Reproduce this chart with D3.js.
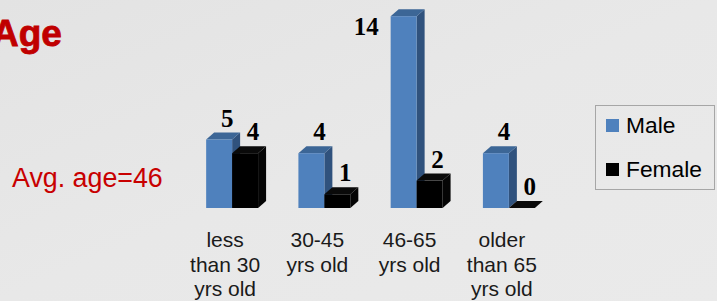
<!DOCTYPE html>
<html>
<head>
<meta charset="utf-8">
<script src="https://cdn.jsdelivr.net/npm/d3@7"></script>
<style>
  html, body { margin: 0; padding: 0; overflow: hidden; }
  body { width: 717px; height: 301px; }
</style>
</head>
<body>
<script>
const categories = [
  ["less", "than 30", "yrs old"],
  ["30-45", "yrs old"],
  ["46-65", "yrs old"],
  ["older", "than 65", "yrs old"]
];
const seriesNames = ["Male", "Female"];
const maleValues = [5, 4, 14, 4];
const femaleValues = [4, 1, 2, 0];
const titleText = "Age";
const noteText = "Avg. age=46";

const width = 717, height = 301;
const colors = {
  Male: { front: "#4f81bd", top: "#3c6696", side: "#30527d" },
  Female: { front: "#000000", top: "#0a0a0a", side: "#050505" }
};
const depthX = 8, depthY = 7;

const svg = d3.select("body").append("svg")
    .attr("width", width)
    .attr("height", height)
    .style("font-family", "Arial, 'Liberation Sans', sans-serif");

// background
const defs = svg.append("defs");
const grad = defs.append("linearGradient")
    .attr("id", "bg")
    .attr("x1", "0%").attr("y1", "0%")
    .attr("x2", "100%").attr("y2", "100%");
grad.append("stop").attr("offset", "0%").attr("stop-color", "#e3e3e3");
grad.append("stop").attr("offset", "50%").attr("stop-color", "#e8e8e8");
grad.append("stop").attr("offset", "100%").attr("stop-color", "#eaeaea");
svg.append("rect").attr("width", width).attr("height", height).attr("fill", "url(#bg)");

// title + note
svg.append("text")
    .attr("x", -8).attr("y", 46)
    .attr("fill", "#c00000")
    .attr("font-size", 37)
    .attr("font-weight", "bold")
    .attr("stroke", "#c00000")
    .attr("stroke-width", 0.8)
    .text(titleText);

svg.append("text")
    .attr("x", 12).attr("y", 187)
    .attr("fill", "#c80000")
    .attr("font-size", 26.8)
    .text(noteText);

// scales
const data = categories.map((c, i) => ({ cat: c.join(" "), lines: c, Male: maleValues[i], Female: femaleValues[i] }));

const x0 = d3.scaleBand()
    .domain(data.map(d => d.cat))
    .range([186, 555])
    .paddingInner(0.437)
    .paddingOuter(0.2185);

const x1 = d3.scaleBand()
    .domain(seriesNames)
    .range([0, x0.bandwidth()]);

const y = d3.scaleLinear()
    .domain([0, 14])
    .range([208, 16.2]);

// bars
const groups = svg.append("g").selectAll("g")
    .data(data)
    .join("g")
    .attr("transform", d => `translate(${x0(d.cat)},0)`);

seriesNames.forEach(s => {
  const bar = groups.append("g");
  const bx = () => x1(s);
  const bw = x1.bandwidth();
  // side
  bar.append("path")
      .attr("fill", colors[s].side)
      .attr("d", d => {
        const l = bx() + bw, t = y(d[s]), b = y(0);
        return `M${l},${t}L${l + depthX},${t - depthY}L${l + depthX},${b - depthY}L${l},${b}Z`;
      });
  // top
  bar.append("path")
      .attr("fill", colors[s].top)
      .attr("d", d => {
        const l = bx(), t = y(d[s]);
        return `M${l},${t}L${l + depthX},${t - depthY}L${l + bw + depthX},${t - depthY}L${l + bw},${t}Z`;
      });
  // front
  bar.append("rect")
      .attr("fill", colors[s].front)
      .attr("x", bx())
      .attr("y", d => y(d[s]))
      .attr("width", bw)
      .attr("height", d => y(0) - y(d[s]));
});

// value labels
seriesNames.forEach(s => {
  groups.append("text")
      .attr("font-family", "'Times New Roman', 'Liberation Serif', serif")
      .attr("font-weight", "bold")
      .attr("font-size", 25)
      .attr("fill", "#000")
      .each(function(d) {
        const t = d3.select(this);
        const top = y(d[s]) - depthY - 6;
        if (top < 26) {
          t.attr("text-anchor", "end")
           .attr("x", x1(s) - 12)
           .attr("y", y(d[s]) + 19);
        } else {
          t.attr("text-anchor", "middle")
           .attr("x", x1(s) + x1.bandwidth() / 2 + depthX)
           .attr("y", top);
        }
      })
      .text(d => d[s]);
});

// category labels
const catText = svg.append("g").selectAll("text")
    .data(data)
    .join("text")
    .attr("text-anchor", "middle")
    .attr("font-size", 21)
    .attr("fill", "#1a1a1a")
    .attr("x", d => x0(d.cat) + x0.bandwidth() / 2 - 7)
    .attr("y", 247);
catText.selectAll("tspan")
    .data(d => d.lines.map(l => ({ l, x: x0(d.cat) + x0.bandwidth() / 2 - 7 })))
    .join("tspan")
    .attr("x", t => t.x)
    .attr("dy", (t, i) => i === 0 ? 0 : 24.5)
    .text(t => t.l);

// legend
const legend = svg.append("g").attr("transform", "translate(595,105)");
legend.append("rect")
    .attr("x", 0.5).attr("y", 0.5)
    .attr("width", 119).attr("height", 84)
    .attr("fill", "none")
    .attr("stroke", "#a6a6a6");
const li = legend.selectAll("g.item")
    .data(seriesNames)
    .join("g")
    .attr("class", "item")
    .attr("transform", (d, i) => `translate(11,${14 + i * 44})`);
li.append("rect")
    .attr("width", 13).attr("height", 13)
    .attr("fill", d => colors[d].front);
li.append("text")
    .attr("x", 20).attr("y", 14)
    .attr("font-size", 22.8)
    .attr("fill", "#000")
    .text(d => d);
</script>
</body>
</html>
